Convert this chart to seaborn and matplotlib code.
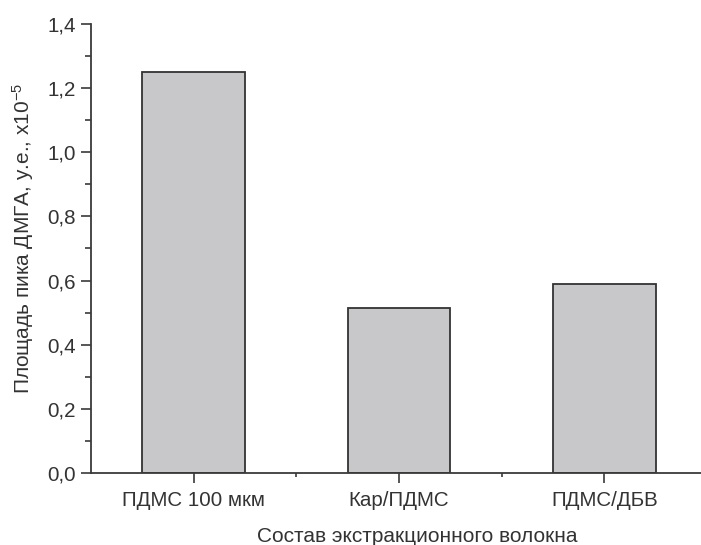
import matplotlib
matplotlib.use("Agg")
import matplotlib.pyplot as plt
from matplotlib.ticker import MultipleLocator, FixedLocator, FuncFormatter
import seaborn as sns
import pandas as pd

# Fibre coatings and DMGA peak areas (x10^-5 a.u.)
fibers = ["ПДМС 100 мкм", "Кар/ПДМС", "ПДМС/ДБВ"]
peak_area = [1.25, 0.515, 0.588]

df = pd.DataFrame({"fiber": fibers, "area": peak_area})

sns.set_theme(style="ticks")
plt.rcParams["font.family"] = ["Liberation Sans", "DejaVu Sans"]
plt.rcParams["mathtext.fontset"] = "custom"
plt.rcParams["mathtext.rm"] = "Liberation Sans"
plt.rcParams["mathtext.it"] = "Liberation Sans"

text_color = "#333333"
axis_color = "#3a3a3a"
fs = 14.8

fig = plt.figure(figsize=(7.01, 5.45), dpi=100)
ax = fig.add_axes([91 / 701, 72 / 545, 616 / 701, 449 / 545])

sns.barplot(data=df, x="fiber", y="area", order=fibers, width=0.5,
            color="#c8c8ca", edgecolor="#333333", linewidth=1.3,
            saturation=1, ax=ax)

ax.set_xlim(-0.5, 2.5)
ax.set_ylim(0, 1.4)

ax.yaxis.set_major_locator(MultipleLocator(0.2))
ax.yaxis.set_minor_locator(MultipleLocator(0.1))
ax.yaxis.set_major_formatter(FuncFormatter(lambda v, p: f"{v:.1f}".replace(".", ",")))
ax.xaxis.set_minor_locator(FixedLocator([0.5, 1.5]))

for side in ("top", "right"):
    ax.spines[side].set_visible(False)
for side in ("left", "bottom"):
    ax.spines[side].set_color(axis_color)
    ax.spines[side].set_linewidth(1.3)

ax.tick_params(axis="both", which="major", direction="out", length=7,
               width=1.2, color=axis_color, labelcolor=text_color,
               labelsize=fs, pad=4)
ax.tick_params(axis="y", which="minor", direction="out", length=4,
               width=1.2, color=axis_color)
ax.tick_params(axis="x", which="minor", direction="out", length=3,
               width=1.2, color=axis_color)
ax.tick_params(axis="x", which="major", pad=6)

ax.set_xlabel("Состав экстракционного волокна", fontsize=15,
              color=text_color, labelpad=12)
ax.set_ylabel("Площадь пика ДМГА, у.е., x10$^{-5}$", fontsize=15,
              color=text_color, labelpad=8)
ax.xaxis.label.set_x(0.529)
ax.yaxis.label.set_y(0.523)

fig.savefig("out.png", dpi=100)
